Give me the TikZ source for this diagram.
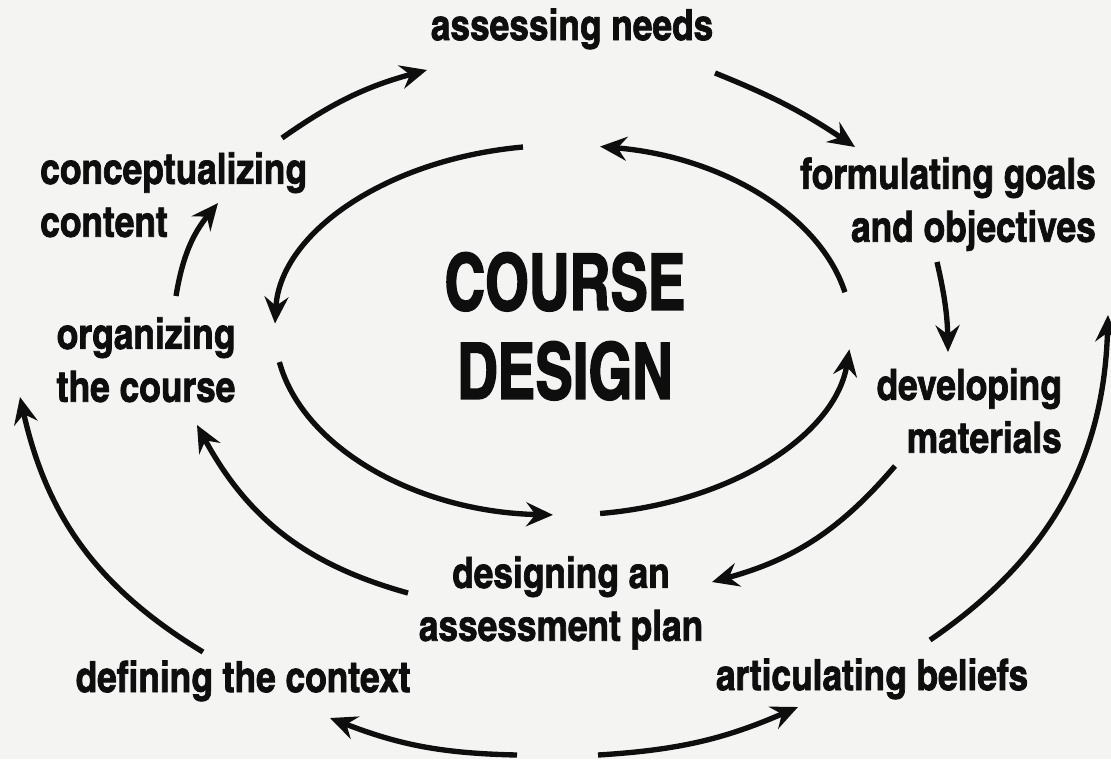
\documentclass[tikz,border=0pt]{standalone}
\usepackage{fontspec}
\newfontfamily\lblfont[FakeBold=1.6]{texgyreheroscn-bold.otf}
\newfontfamily\ttlfont[FakeStretch=0.88,FakeBold=2]{texgyreheroscn-bold.otf}
\usetikzlibrary{arrows.meta}
\definecolor{ink}{RGB}{14,14,14}
\definecolor{paper}{RGB}{244,244,242}
\begin{document}
\begin{tikzpicture}[x=0.025cm,y=-0.025cm,
  lbl/.style={font=\lblfont\fontsize{30.6pt}{37.6pt}\selectfont, inner sep=0pt, text=ink},
  ttl/.style={font=\ttlfont\fontsize{55.5pt}{63.3pt}\selectfont, inner sep=0pt, text=ink},
  arr/.style={draw=ink, line width=3.8pt, -{Stealth[length=19pt,width=17pt,inset=6.5pt]}},
]
\useasboundingbox (0,0) rectangle (1111,759);
\fill[paper] (0,0) rectangle (1111,759);

% labels
\node[lbl, anchor=base] (assess) at (572,40) {assessing needs};
\node[lbl, anchor=north west, align=left] (concept) at (40,152) {conceptualizing\\content};
\node[lbl, anchor=north east, align=right] (formul) at (1096,157) {formulating goals\\and objectives};
\node[ttl, anchor=north, align=center] (course) at (565,252) {COURSE\\DESIGN};
\node[lbl, anchor=north, align=center] (organ) at (146,317) {organizing\\the course};
\node[lbl, anchor=north east, align=right] (develop) at (1062,368) {developing\\materials};
\node[lbl, anchor=north, align=center] (designing) at (561,556) {designing an\\assessment plan};
\node[lbl, anchor=base] (context) at (243,692) {defining the context};
\node[lbl, anchor=base] (beliefs) at (872,690) {articulating beliefs};

% connector end points
\coordinate (a1s) at (282,138);   \coordinate (a1e) at (427,70);
\coordinate (a2s) at (715,73);    \coordinate (a2e) at (855,147);
\coordinate (a3s) at (937,262);   \coordinate (a3e) at (948,352);
\coordinate (a4s) at (895,466);   \coordinate (a4e) at (712,582);
\coordinate (a5s) at (408,593);   \coordinate (a5e) at (197,425);
\coordinate (a6s) at (176,296);   \coordinate (a6e) at (218,203);
\coordinate (i1s) at (523,147);   \coordinate (i1e) at (275,323.5);
\coordinate (i2s) at (279.4,362.1); \coordinate (i2e) at (553,514.9);
\coordinate (i3s) at (600.1,513.5); \coordinate (i3e) at (849.4,349.3);
\coordinate (i4s) at (844.9,292.2); \coordinate (i4e) at (600.1,146.5);
\coordinate (ols) at (203,652);   \coordinate (ole) at (20,397);
\coordinate (ors) at (930,640);   \coordinate (ore) at (1108,315);
\coordinate (bls) at (517,755);   \coordinate (ble) at (330,718);
\coordinate (brs) at (598,755);   \coordinate (bre) at (798,707);

% outer cycle
\draw[arr] (a1s) .. controls (332.7,102.3) and (367.1,86.2) .. (a1e);
\draw[arr] (a2s) .. controls (772.5,96.1) and (803.5,112.4) .. (a2e);
\draw[arr] (a3s) .. controls (944.9,296.1) and (947.4,317) .. (a3e);
\draw[arr] (a4s) .. controls (839.7,530.5) and (793.9,559.4) .. (a4e);
\draw[arr] (a5s) .. controls (305.8,564.7) and (247.6,518.2) .. (a5e);
\draw[arr] (a6s) .. controls (182.5,256.5) and (192.7,234) .. (a6e);

% inner ring
\draw[arr] (i1s) .. controls (384.7,159.5) and (279.9,233.8) .. (i1e);
\draw[arr] (i2s) .. controls (303,448.1) and (417.2,511.9) .. (i2e);
\draw[arr] (i3s) .. controls (732.3,502.5) and (835.5,434.5) .. (i3e);
\draw[arr] (i4s) .. controls (819.8,215.1) and (721.6,156.6) .. (i4e);

% outermost arcs
\draw[arr] (ols) .. controls (97.9,588.1) and (47,517) .. (ole);
\draw[arr] (ors) .. controls (1049.8,558.3) and (1103.7,459.9) .. (ore);
\draw[arr] (bls) .. controls (442.4,753.4) and (399.5,745) .. (ble);
\draw[arr] (brs) .. controls (678.3,750.1) and (724.2,739.1) .. (bre);
\end{tikzpicture}
\end{document}
